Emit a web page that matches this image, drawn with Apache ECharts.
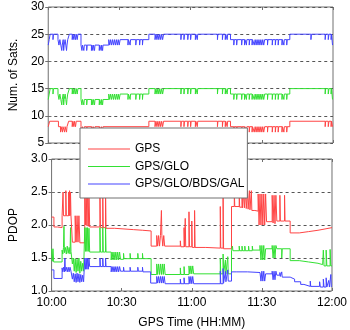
<!DOCTYPE html>
<html>
<head>
<meta charset="utf-8">
<script src="https://cdn.jsdelivr.net/npm/echarts@6/dist/echarts.min.js"></script>
<style>
html,body{margin:0;padding:0;background:#fff;}
#c{width:350px;height:330px;}
</style>
</head>
<body>
<div id="c"></div>
<script>
// time in minutes after 10:00, value held until the next point
const tickLabels = ['10:00', '10:30', '11:00', '11:30', '12:00'];
const seriesNames = ['GPS', 'GPS/GLO', 'GPS/GLO/BDS/GAL'];

const gpsSats = [
[0,8],[0.6,9],[4.3,8],
[5.2,7],[5.4,8],[6.0,7],[6.2,8],[6.9,7],[7.1,8],[7.7,7],[7.9,8],
[8.6,9],
[10.1,8],[10.4,9],[10.8,8],[11.1,9],[11.5,8],[11.8,9],
[13.8,8],
[14.2,7],[14.4,8],[15.0,7],[15.2,8],[16.2,7],[16.4,8],
[18.2,7],[18.4,8],[18.8,7],[19.0,8],[19.5,7],[19.7,8],
[21.5,7],[21.7,8],[22.3,7],[22.5,8],[22.9,7],[23.1,8],
[42.4,9],
[45.0,8],[45.4,9],[45.8,8],[46.2,9],[46.6,8],[47.0,9],[47.4,8],[47.8,9],[48.2,8],[48.6,9],
[55.9,8],[56.1,9],[57.2,8],[57.4,9],[58.8,8],[59.0,9],[60.0,8],[60.2,9],[62.0,8],[62.2,9],[62.8,8],[63.0,9],
[71.3,8],[71.5,9],[73.4,8],[73.6,9],[74.6,8],[74.8,9],[75.4,8],[75.6,9],
[76.8,8],
[78.2,7],[78.4,8],[79.4,7],[79.6,8],[81.5,7],[81.7,8],[82.7,7],[82.9,8],[83.5,7],[83.7,8],[84.7,7],[84.9,8],[85.9,7],[86.1,8],
[86.8,7],[87.2,8],[87.6,7],[88.0,8],[88.4,7],[88.8,8],[89.2,7],[89.6,8],[90.0,7],[90.4,8],[90.8,7],[91.2,8],
[92.4,7],[92.6,8],[94.4,7],[94.6,8],[95.7,7],[95.9,8],[96.9,7],[97.1,8],[98.5,7],[98.7,8],[99.3,7],[99.5,8],[100.5,7],[100.7,8],
[101.8,9],
[116.7,8],[116.9,9],[118.0,8],[118.3,9],[119.2,8],[119.4,9],[119.8,8],[120,8]
];

const gloSats = [
[0,13],[0.4,14],[0.8,15],
[2.0,14],[2.2,15],
[4.1,14],[4.5,13],[4.9,14],[5.3,13],[5.7,12],[5.9,13],[6.3,14],[6.5,12],[6.7,13],[7.1,14],[7.4,13],[7.7,12],[7.9,13],[8.2,14],
[8.9,15],
[10.1,14],[10.4,15],[10.8,14],[11.1,15],[11.5,14],[11.8,15],[12.2,14],[12.5,15],
[13.8,13],
[14.2,12],[14.4,13],[15.0,12],[15.2,13],[16.2,12],[16.4,13],
[18.2,12],[18.4,13],[18.8,12],[19.0,13],[19.5,12],[19.7,13],
[21.5,12],[21.7,13],[22.3,12],[22.5,13],[22.9,12],[23.1,13],
[25.5,14],[25.9,13],[26.3,14],[26.7,13],[27.1,14],[27.5,13],[27.9,14],[28.3,13],[28.7,14],[29.1,13],[29.5,14],[29.9,13],[30.3,14],
[33.6,13],[33.8,14],[34.5,13],[34.7,14],[36.9,13],[37.1,14],[38.5,13],[38.7,14],[39.7,13],[39.9,14],
[42.4,15],
[45.0,14],[45.4,15],[45.8,14],[46.2,15],[46.6,14],[47.0,15],[47.4,14],[47.8,15],[48.2,14],[48.6,15],
[55.9,14],[56.1,15],[57.2,14],[57.4,15],[58.8,14],[59.0,15],[60.0,14],[60.2,15],[62.0,14],[62.2,15],[62.8,14],[63.0,15],
[71.3,14],[71.5,15],[73.4,14],[73.6,15],[74.6,14],[74.8,15],[75.4,14],[75.6,15],
[76.8,14],
[78.2,13],[78.4,14],[79.4,13],[79.6,14],[81.5,13],[81.7,14],[82.7,13],[82.9,14],[83.5,13],[83.7,14],[84.7,13],[84.9,14],[85.9,13],[86.1,14],
[86.8,13],[87.2,14],[87.6,13],[88.0,14],[88.4,13],[88.8,14],[89.2,13],[89.6,14],[90.0,13],[90.4,14],[90.8,13],[91.2,14],
[92.4,13],[92.6,14],[94.4,13],[94.6,14],[95.7,13],[95.9,14],[96.9,13],[97.1,14],[98.5,13],[98.7,14],[99.3,13],[99.5,14],[100.5,13],[100.7,14],
[101.8,15],
[116.7,14],[116.9,15],[118.0,14],[118.3,15],[119.2,14],[119.4,15],[119.8,13],[120,13]
];

const allSats = [
[0,23],[0.4,24],[0.8,25],
[2.0,24],[2.2,25],
[4.1,24],[4.5,23],[4.9,24],[5.3,23],[5.7,22],[5.9,23],[6.3,24],[6.5,22],[6.7,23],[7.1,24],[7.4,23],[7.7,22],[7.9,23],[8.2,24],
[8.9,25],
[10.1,24],[10.4,25],[10.8,24],[11.1,25],[11.5,24],[11.8,25],[12.2,24],[12.5,25],
[13.8,23],
[14.2,22],[14.4,23],[15.0,22],[15.2,23],[16.2,22],[16.4,23],
[18.2,22],[18.4,23],[18.8,22],[19.0,23],[19.5,22],[19.7,23],
[21.5,22],[21.7,23],[22.3,22],[22.5,23],[22.9,22],[23.1,23],
[25.5,24],[25.9,23],[26.3,24],[26.7,23],[27.1,24],[27.5,23],[27.9,24],[28.3,23],[28.7,24],[29.1,23],[29.5,24],[29.9,23],[30.3,24],
[33.6,23],[33.8,24],[34.5,23],[34.7,24],[36.9,23],[37.1,24],[38.5,23],[38.7,24],[39.7,23],[39.9,24],
[42.4,25],
[45.0,24],[45.4,25],[45.8,24],[46.2,25],[46.6,24],[47.0,25],[47.4,24],[47.8,25],[48.2,24],[48.6,25],
[55.9,24],[56.1,25],[57.2,24],[57.4,25],[58.8,24],[59.0,25],[60.0,24],[60.2,25],[62.0,24],[62.2,25],[62.8,24],[63.0,25],
[71.3,24],[71.5,25],[73.4,24],[73.6,25],[74.6,24],[74.8,25],[75.4,24],[75.6,25],
[76.8,24],
[78.2,23],[78.4,24],[79.4,23],[79.6,24],[81.5,23],[81.7,24],[82.7,23],[82.9,24],[83.5,23],[83.7,24],[84.7,23],[84.9,24],[85.9,23],[86.1,24],
[86.8,23],[87.2,24],[87.6,23],[88.0,24],[88.4,23],[88.8,24],[89.2,23],[89.6,24],[90.0,23],[90.4,24],[90.8,23],[91.2,24],
[92.4,23],[92.6,24],[94.4,23],[94.6,24],[95.7,23],[95.9,24],[96.9,23],[97.1,24],[98.5,23],[98.7,24],[99.3,23],[99.5,24],[100.5,23],[100.7,24],
[101.8,25],
[110.7,24],[110.9,25],
[116.7,24],[116.9,25],[118.0,24],[118.3,25],[119.2,24],[119.4,25],[119.8,23],[120,23]
];

const gpsPdop = [
[0,2.12],[1.0,1.97],[2.5,1.96],[4.5,2.14],
[4.9,2.5],[5.1,2.14],[6.1,2.52],[6.3,2.14],[7.3,2.5],[7.5,2.14],[7.7,2.52],[7.9,2.14],[8.1,2.5],[8.3,2.14],
[8.9,1.74],
[10.1,2.14],[10.5,1.74],[10.9,2.14],[11.3,1.74],[11.7,2.14],[12.1,1.73],
[14.2,2.55],[14.5,2.0],[14.8,2.56],[15.1,1.99],[15.4,2.54],[15.7,1.98],[16.0,2.52],[16.3,1.97],
[20.7,2.5],[20.9,1.96],[21.9,2.48],[22.1,1.96],[23.1,2.5],[23.3,1.95],
[27,1.94],[31,1.93],[35,1.92],[39,1.91],
[42.6,1.68],
[45.0,1.84],[45.4,1.68],[45.8,1.84],[46.2,1.68],[46.6,1.84],[47.0,2.22],[47.2,1.84],[47.6,1.68],[48.0,1.84],[48.4,1.68],
[55.1,1.76],[55.3,1.67],[56.7,1.96],[56.9,1.67],[57.2,2.1],[57.4,1.67],[58.8,2.2],[59.0,1.67],[60.0,2.06],[60.2,1.66],[61.2,2.22],[61.4,1.66],
[66,1.65],[72.2,2.28],[72.4,1.65],[73.4,2.46],[73.6,1.64],
[77.0,2.28],
[78.2,2.52],[78.4,2.28],[80.3,2.52],[80.5,2.27],[81.5,2.52],[81.7,2.26],[82.3,2.52],[82.5,2.26],[83.1,2.52],[83.3,2.25],[83.9,2.52],[84.1,2.24],[84.7,2.52],[84.9,2.23],[85.5,2.52],[85.7,2.22],
[87,2.21],
[88.4,2.47],[88.8,2.0],[89.2,2.47],[89.6,2.0],[90.0,2.47],[90.4,2.0],[90.8,2.47],[91.2,2.0],[91.6,2.47],[92.0,2.05],
[94.4,2.45],[94.8,2.03],[95.2,2.45],[95.6,2.02],[96.0,2.45],[96.4,2.06],
[97.7,2.45],[97.9,2.06],[99.7,2.45],[99.9,2.06],
[102.1,1.88],[106,1.9],[110,1.92],[114,1.94],[117,1.96],[120,1.97]
];

const gloPdop = [
[0,1.64],[0.3,1.45],[0.6,1.64],[0.9,1.44],
[4.5,1.62],[4.8,1.56],[5.1,1.66],[5.3,1.98],[5.5,1.58],[5.9,1.66],[6.3,1.56],[6.7,1.68],[7.1,1.57],[7.5,1.66],[7.9,1.56],[8.1,1.96],[8.3,1.6],
[8.9,1.41],
[9.3,1.5],[9.7,1.3],[10.1,1.49],[10.5,1.28],[10.9,1.48],[11.3,1.3],[11.7,1.5],[12.1,1.27],[12.5,1.45],[12.9,1.3],[13.3,1.42],[13.7,1.3],
[14.2,1.96],[14.5,1.6],[14.8,1.96],[15.1,1.6],[15.4,1.96],[15.7,1.6],[16.0,1.95],[16.3,1.59],
[20.7,1.96],[20.9,1.59],[21.9,1.96],[22.1,1.59],[23.1,1.96],[23.3,1.59],
[25.5,1.47],[25.9,1.59],[26.3,1.47],[26.7,1.59],[27.1,1.47],[27.5,1.59],[27.9,1.47],[28.3,1.59],[28.7,1.47],[29.1,1.59],[29.5,1.48],
[30.8,1.57],[31.0,1.49],[33.6,1.57],[33.8,1.49],[36.9,1.57],[37.1,1.49],[38.9,1.57],[39.1,1.49],
[42.6,1.25],
[45.0,1.41],[45.4,1.25],[45.8,1.41],[46.2,1.25],[46.6,1.41],[47.0,1.25],[47.4,1.41],[47.8,1.25],[48.2,1.41],[48.6,1.25],
[55.1,1.35],[55.3,1.25],[56.7,1.37],[56.9,1.25],
[58.8,1.38],[59.2,1.26],[59.6,1.38],[60.0,1.26],[60.4,1.38],[60.8,1.26],
[72.2,1.5],[72.4,1.26],[73.4,1.56],[73.6,1.26],[74.4,1.47],[74.6,1.26],[75.4,1.52],[75.6,1.26],
[77.0,1.61],
[77.4,1.68],[77.6,1.61],[80.3,1.68],[80.5,1.61],[81.5,1.68],[81.7,1.61],[82.7,1.68],[82.9,1.61],[84.3,1.68],[84.5,1.61],[85.9,1.68],[86.1,1.62],
[89.2,1.69],[89.6,1.47],[90.0,1.69],[90.4,1.47],[90.8,1.69],[91.2,1.47],[91.6,1.64],
[94.4,1.69],[94.8,1.5],[95.2,1.69],[95.6,1.5],[96.0,1.69],[96.4,1.64],
[98.5,1.5],[98.7,1.64],
[102.1,1.46],[106,1.44],[110,1.42],[114,1.4],[116,1.38],
[116.3,1.62],[116.6,1.38],[117.5,1.62],[117.8,1.38],[119.2,1.63],[119.5,1.38],[120,1.37]
];

const allPdop = [
[0,1.32],[1.0,1.19],
[4.5,1.35],[4.8,1.29],[5.1,1.36],[5.5,1.29],[5.7,1.5],[5.9,1.3],[6.3,1.36],[6.7,1.29],[7.1,1.36],[7.5,1.29],[7.9,1.36],[8.3,1.3],
[8.9,1.18],
[9.3,1.27],[9.7,1.14],[10.1,1.26],[10.5,1.13],[10.9,1.27],[11.3,1.14],[11.7,1.26],[12.1,1.13],[12.5,1.25],[12.9,1.14],[13.3,1.24],[13.7,1.14],
[14.2,1.5],[14.5,1.33],[14.8,1.5],[15.1,1.33],[15.4,1.5],[15.7,1.33],[16.0,1.49],[16.3,1.37],
[20.7,1.5],[20.9,1.37],[21.9,1.5],[22.1,1.37],[23.1,1.5],[23.3,1.37],
[25.5,1.29],[25.9,1.37],[26.3,1.29],[26.7,1.37],[27.1,1.29],[27.5,1.37],[27.9,1.29],[28.3,1.37],[28.7,1.29],[29.1,1.37],[29.5,1.3],
[30.8,1.36],[31.0,1.3],[33.6,1.36],[33.8,1.3],[36.9,1.36],[37.1,1.3],[38.9,1.36],[39.1,1.29],
[42.4,1.12],
[45.0,1.22],[45.4,1.12],[45.8,1.22],[46.2,1.12],[46.6,1.22],[47.0,1.12],[47.4,1.22],[47.8,1.12],[48.2,1.22],[48.6,1.11],
[55.1,1.18],[55.3,1.11],[56.7,1.2],[56.9,1.11],
[58.8,1.22],[59.2,1.11],[59.6,1.22],[60.0,1.11],[60.4,1.22],[60.8,1.11],
[72.2,1.3],[72.4,1.11],[73.4,1.34],[73.6,1.12],[74.4,1.3],[74.6,1.14],[75.4,1.32],[75.6,1.15],
[77.0,1.29],
[79.0,1.32],[79.2,1.29],[81.5,1.32],[81.7,1.29],[83.9,1.31],[84.1,1.28],
[89.2,1.3],[89.6,1.15],[90.0,1.3],[90.4,1.15],[90.8,1.3],[91.2,1.15],[91.6,1.26],
[94.4,1.3],[94.8,1.17],[95.2,1.3],[95.6,1.17],[96.0,1.3],[96.4,1.24],
[97.7,1.28],[97.9,1.22],[98.5,1.29],[98.7,1.21],
[102.1,1.18],[104,1.14],[106.6,1.1],[108,1.07],
[110.7,1.15],[110.9,1.07],[114.7,1.14],[115.0,1.06],[116.3,1.18],[116.6,1.06],[117.5,1.2],[117.8,1.06],[118.6,1.16],[118.9,1.06],[119.5,1.25],[119.7,1.06],[120,1.06]
];

const colors = ['#ff4444', '#33e033', '#4444ff'];
const FONT = 'Liberation Sans, Arial, sans-serif';
const frame = '#707070';

function xAx(grid, pos, labels, name) {
  return {
    type: 'value', gridIndex: grid, position: pos, min: 0, max: 120, interval: 30,
    axisLine: { show: false },
    axisTick: { show: true, inside: true, length: 3, lineStyle: { color: frame } },
    axisLabel: { show: labels, color: '#000', fontSize: 12, fontFamily: FONT, margin: 6,
      formatter: v => tickLabels[Math.round(v / 30)] },
    splitLine: { show: false },
    name: name || '', nameLocation: 'middle', nameGap: 26,
    nameTextStyle: { color: '#000', fontSize: 12, fontFamily: FONT }
  };
}
function yAx(grid, pos, min, max, step, labels, name, dec) {
  return {
    type: 'value', gridIndex: grid, position: pos, min: min, max: max, interval: step,
    axisLine: { show: false },
    axisTick: { show: true, inside: true, length: 3, lineStyle: { color: frame } },
    axisLabel: { show: labels, color: '#000', fontSize: 12, fontFamily: FONT, margin: 4,
      formatter: v => v.toFixed(dec) },
    splitLine: { show: labels, lineStyle: { color: '#555', type: [3, 3], width: 1 } },
    name: name || '', nameLocation: 'middle', nameGap: 22, nameRotate: 90,
    nameTextStyle: { color: '#000', fontSize: 12, fontFamily: FONT }
  };
}
function ser(name, data, xi, yi, c) {
  return { type: 'line', name: name, data: data, xAxisIndex: xi, yAxisIndex: yi,
    step: 'end', symbol: 'none', showSymbol: false, animation: false,
    lineStyle: { color: c, width: 1 }, itemStyle: { color: c } };
}

const chart = echarts.init(document.getElementById('c'), null, { renderer: 'canvas' });
chart.setOption({
  animation: false,
  backgroundColor: '#fff',
  grid: [
    { left: 37, top: 7, width: 296, height: 136, show: true, borderColor: frame, borderWidth: 1, backgroundColor: 'transparent' },
    { left: 37, top: 159, width: 296, height: 136, show: true, borderColor: frame, borderWidth: 1, backgroundColor: 'transparent' }
  ],
  xAxis: [
    xAx(0, 'bottom', false), xAx(0, 'top', false),
    xAx(1, 'bottom', true, 'GPS Time (HH:MM)'), xAx(1, 'top', false)
  ],
  yAxis: [
    yAx(0, 'left', 5, 30, 5, true, 'Num. of Sats.', 0), yAx(0, 'right', 5, 30, 5, false, '', 0),
    yAx(1, 'left', 1, 3, 0.5, true, 'PDOP', 1), yAx(1, 'right', 1, 3, 0.5, false, '', 1)
  ],
  legend: {
    data: seriesNames, orient: 'vertical', left: 80, top: 128,
    icon: 'rect', itemWidth: 42, itemHeight: 1, itemGap: 3.5,
    padding: [14, 3, 7, 8],
    backgroundColor: '#fff', borderColor: frame, borderWidth: 1, borderRadius: 0,
    textStyle: { color: '#000', fontSize: 12, fontFamily: FONT, lineHeight: 14 },
    selectedMode: false
  },
  series: [
    ser(seriesNames[0], gpsSats, 0, 0, colors[0]),
    ser(seriesNames[1], gloSats, 0, 0, colors[1]),
    ser(seriesNames[2], allSats, 0, 0, colors[2]),
    ser(seriesNames[0], gpsPdop, 2, 2, colors[0]),
    ser(seriesNames[1], gloPdop, 2, 2, colors[1]),
    ser(seriesNames[2], allPdop, 2, 2, colors[2])
  ]
});
</script>
</body>
</html>
